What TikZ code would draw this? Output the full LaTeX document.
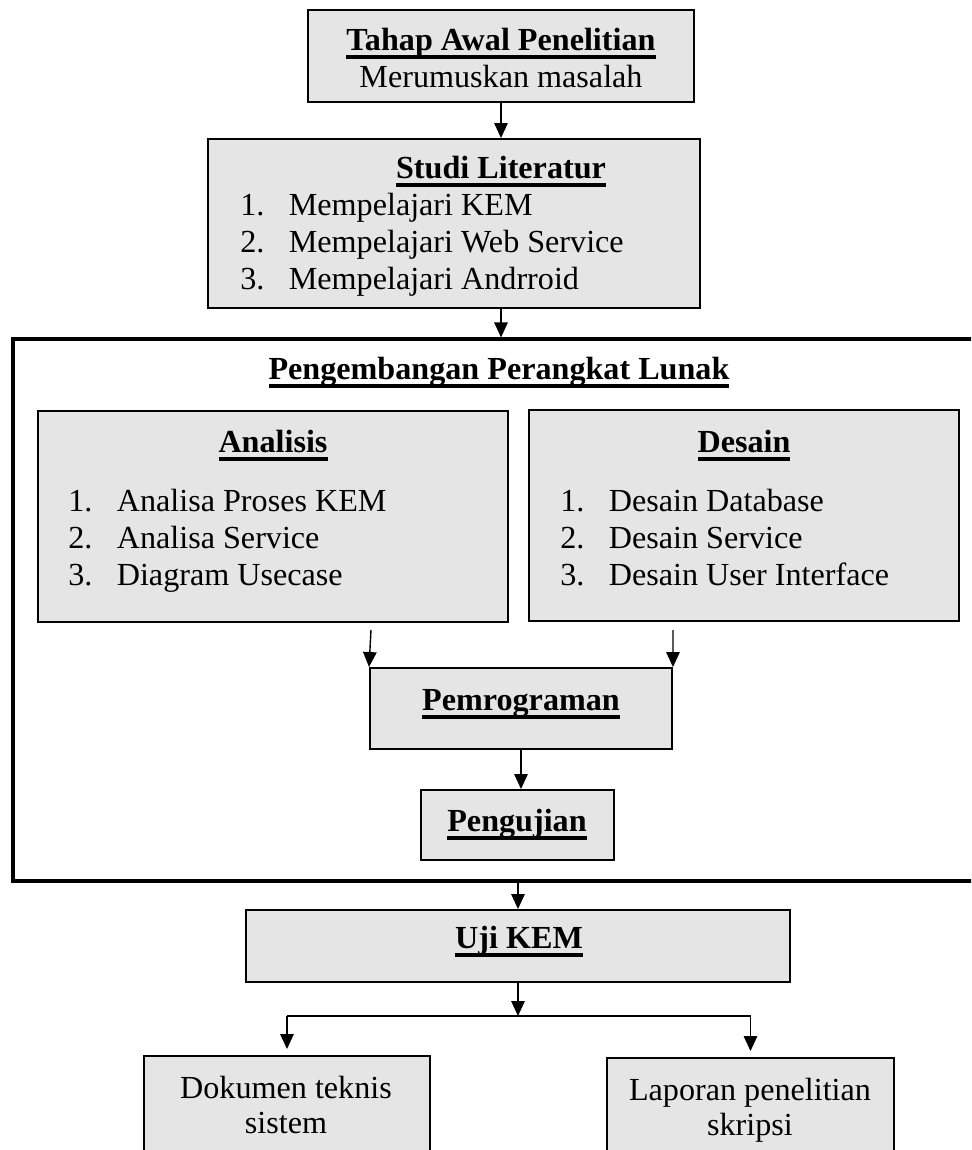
\documentclass[tikz,border=0pt]{standalone}
\usepackage{fontspec}
\setmainfont{Liberation Serif}
\usetikzlibrary{arrows.meta}
\definecolor{abu}{gray}{0.9}
\newcommand{\px}{0.02cm}
\newcommand{\judul}[1]{\setbox0\hbox{\textbf{#1}}\leavevmode\rlap{\rule[-5pt]{\wd0}{2pt}}\box0}
\newcommand{\butir}[2]{\makebox[0.97cm][l]{#1}#2}
\tikzset{
	tahap/.style = {
		draw,
		line width=1.1pt,
		fill=abu,
		inner sep=0pt
	},
	wadah/.style = {
		draw,
		line width=1.8pt,
		inner sep=0pt
	},
	teks/.style = {
		anchor=base,
		inner sep=0pt,
		font=\fontsize{18.3}{21}\selectfont
	}
}
\tikzstyle{arrow} = [-{Triangle[length=0.3cm,width=0.27cm]}, line width=0.8pt]

\begin{document}
\begin{tikzpicture}[x=0.02cm, y=-0.02cm]
		\useasboundingbox (0,0) rectangle (971,1150);
		\clip (0,0) rectangle (971,1150);
		% kotak
		\node[tahap, minimum width=386*\px, minimum height=92*\px] (awal) at (501,56) {};
		\node[tahap, minimum width=492*\px, minimum height=169*\px] (studi) at (454,223.5) {};
		\node[wadah, minimum width=982*\px, minimum height=542*\px] (pengembangan) at (504,610) {};
		\node[tahap, minimum width=470*\px, minimum height=211*\px] (analisis) at (273,516.5) {};
		\node[tahap, minimum width=430*\px, minimum height=211*\px] (desain) at (744,515.5) {};
		\node[tahap, minimum width=302*\px, minimum height=81*\px] (pemrograman) at (521,708.5) {};
		\node[tahap, minimum width=193*\px, minimum height=70*\px] (pengujian) at (517.5,825) {};
		\node[tahap, minimum width=544*\px, minimum height=72*\px] (ujikem) at (518,946) {};
		\node[tahap, minimum width=286*\px, minimum height=124*\px] (dokumen) at (287,1118) {};
		\node[tahap, minimum width=287*\px, minimum height=122*\px] (laporan) at (750.5,1119) {};
		
		% teks
		\node[teks] (awal-judul) at (501,50) {\judul{Tahap Awal Penelitian}};
		\node[teks] (awal-isi) at (501,87) {Merumuskan masalah};
		\node[teks] (studi-judul) at (501,178) {\judul{Studi Literatur}};
		\foreach \t [count=\n] in {Mempelajari KEM, Mempelajari Web Service, Mempelajari Andrroid}
			\node[teks, anchor=base west] (studi-\n) at (240,178+37*\n) {\butir{\n.}{\t}};
		\node[teks] (pengembangan-judul) at (499,379) {\judul{Pengembangan Perangkat Lunak}};
		\node[teks] (analisis-judul) at (273,452) {\judul{Analisis}};
		\foreach \t [count=\n] in {Analisa Proses KEM, Analisa Service, Diagram Usecase}
			\node[teks, anchor=base west] (analisis-\n) at (68,474+37*\n) {\butir{\n.}{\t}};
		\node[teks] (desain-judul) at (744,452) {\judul{Desain}};
		\foreach \t [count=\n] in {Desain Database, Desain Service, Desain User Interface}
			\node[teks, anchor=base west] (desain-\n) at (560,474+37*\n) {\butir{\n.}{\t}};
		\node[teks] (pemrograman-judul) at (521,710) {\judul{Pemrograman}};
		\node[teks] (pengujian-judul) at (517,831) {\judul{Pengujian}};
		\node[teks] (ujikem-judul) at (519,948) {\judul{Uji KEM}};
		\node[teks] (dokumen-1) at (286,1098) {Dokumen teknis};
		\node[teks] (dokumen-2) at (286,1133) {sistem};
		\node[teks] (laporan-1) at (750,1100) {Laporan penelitian};
		\node[teks] (laporan-2) at (750,1135) {skripsi};
		
		% panah
		\draw[arrow] (awal.south) -- (awal.south |- studi.north);
		\draw[arrow] (awal.south |- studi.south) -- (awal.south |- pengembangan.north);
		\coordinate (dari-analisis) at (371,630);
		\coordinate (dari-desain) at (673,630);
		\draw[arrow] (dari-analisis) -- (pemrograman.north west);
		\draw[arrow] (dari-desain) -- (pemrograman.north east);
		\draw[arrow] (pemrograman.south) -- (pemrograman.south |- pengujian.north);
		\draw[arrow] (ujikem.north |- pengembangan.south) -- (ujikem.north);
		\coordinate (cabang) at (518,1016);
		\draw[arrow] (ujikem.south) -- (cabang);
		\draw[line width=0.8pt] (cabang -| dokumen) -- (cabang -| laporan);
		\draw[arrow, shorten >=0.12cm] (cabang -| dokumen) -- (dokumen.north);
		\draw[arrow, shorten >=0.12cm] (cabang -| laporan) -- (laporan.north);
	\end{tikzpicture}
\end{document}
